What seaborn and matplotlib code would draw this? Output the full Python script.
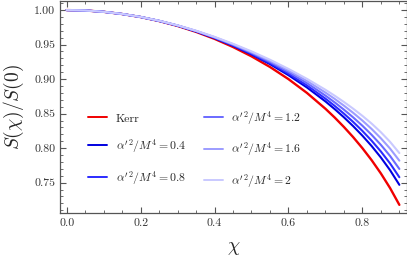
import numpy as np
import pandas as pd
import matplotlib
matplotlib.use("Agg")
import matplotlib.pyplot as plt
import seaborn as sns
from matplotlib.ticker import MultipleLocator

# valores
chi = [0.0, 0.05, 0.10, 0.15, 0.20, 0.25, 0.30, 0.35, 0.40, 0.45,
       0.50, 0.55, 0.60, 0.65, 0.70, 0.725, 0.75, 0.775, 0.80, 0.825,
       0.85, 0.875, 0.90]

kerr = [1.0000, 0.9994, 0.9975, 0.9943, 0.9899, 0.9841, 0.9770, 0.9684, 0.9583, 0.9465,
        0.9330, 0.9176, 0.9000, 0.8800, 0.8571, 0.8444, 0.8307, 0.8160, 0.8000, 0.7826,
        0.7634, 0.7421, 0.7179]
a04 = [1.0000, 0.9994, 0.9975, 0.9943, 0.9900, 0.9843, 0.9774, 0.9691, 0.9594, 0.9483,
       0.9358, 0.9217, 0.9057, 0.8879, 0.8677, 0.8566, 0.8447, 0.8319, 0.8181, 0.8031,
       0.7865, 0.7680, 0.7469]
a08 = [1.0000, 0.9994, 0.9975, 0.9943, 0.9900, 0.9843, 0.9775, 0.9693, 0.9599, 0.9490,
       0.9368, 0.9232, 0.9079, 0.8909, 0.8717, 0.8612, 0.8500, 0.8380, 0.8250, 0.8108,
       0.7952, 0.7778, 0.7579]
a12 = [1.0000, 0.9994, 0.9975, 0.9943, 0.9900, 0.9844, 0.9776, 0.9696, 0.9603, 0.9498,
       0.9380, 0.9249, 0.9103, 0.8942, 0.8761, 0.8663, 0.8558, 0.8446, 0.8325, 0.8193,
       0.8048, 0.7886, 0.7699]
a16 = [1.0000, 0.9994, 0.9975, 0.9944, 0.9901, 0.9845, 0.9778, 0.9699, 0.9608, 0.9505,
       0.9391, 0.9265, 0.9126, 0.8974, 0.8805, 0.8714, 0.8616, 0.8512, 0.8400, 0.8278,
       0.8143, 0.7993, 0.7819]
a20 = [1.0000, 0.9994, 0.9975, 0.9944, 0.9901, 0.9846, 0.9779, 0.9701, 0.9612, 0.9512,
       0.9402, 0.9281, 0.9148, 0.9004, 0.8846, 0.8760, 0.8669, 0.8572, 0.8468, 0.8356,
       0.8231, 0.8091, 0.7929]

labels = ["Kerr",
          r"$\alpha'^2/M^4=0.4$", r"$\alpha'^2/M^4=0.8$", r"$\alpha'^2/M^4=1.2$",
          r"$\alpha'^2/M^4=1.6$", r"$\alpha'^2/M^4=2$"]
colores = ["#f00000", "#0000e0", "#2b2bff", "#6a6aff", "#9c9cff", "#c9c9ff"]

series = [kerr, a04, a08, a12, a16, a20]
df = pd.concat([pd.DataFrame({"chi": chi, "S": s, "modelo": lab})
                for s, lab in zip(series, labels)], ignore_index=True)

sns.set_style("ticks")
plt.rcParams["font.family"] = "serif"
plt.rcParams["font.serif"] = ["cmr10"]
plt.rcParams["mathtext.fontset"] = "cm"
plt.rcParams["axes.formatter.use_mathtext"] = True

fig = plt.figure(figsize=(4.07, 2.71), dpi=100)
ax = fig.add_axes([0.1474, 0.213, 0.852, 0.785])

sns.lineplot(data=df, x="chi", y="S", hue="modelo", palette=colores,
             hue_order=labels, ax=ax, linewidth=1.5, legend=False)
ax.lines[0].set_linewidth(1.7)

for c, lab in zip(colores, labels):
    ax.plot([], [], color=c, lw=1.4, label=lab)
ax.legend(ncol=2, frameon=False, loc="center left", bbox_to_anchor=(0.065, 0.30),
          fontsize=8.5, handlelength=1.6, handletextpad=0.7, columnspacing=1.5,
          labelspacing=1.15, borderpad=0)

ax.set_xlim(-0.018, 0.920)
ax.set_ylim(0.7057, 1.0138)
ax.xaxis.set_major_locator(MultipleLocator(0.2))
ax.xaxis.set_minor_locator(MultipleLocator(0.05))
ax.yaxis.set_major_locator(MultipleLocator(0.05))
ax.yaxis.set_minor_locator(MultipleLocator(0.01))
ax.xaxis.set_major_formatter(plt.FuncFormatter(lambda v, p: f"{v:.1f}"))
ax.yaxis.set_major_formatter(plt.FuncFormatter(lambda v, p: f"{v:.2f}"))

gris = "#555555"
ax.tick_params(which="both", direction="in", top=True, right=True,
               color=gris, labelcolor="#333333", labelsize=8.5)
ax.tick_params(which="major", length=4, width=0.8)
ax.tick_params(which="minor", length=2, width=0.6)
for sp in ax.spines.values():
    sp.set_color(gris)
    sp.set_linewidth(0.9)

ax.set_xlabel(r"$\chi$", fontsize=14, labelpad=8)
ax.set_ylabel(r"$S(\chi)/S(0)$", fontsize=14, labelpad=6)

fig.savefig("out.png", dpi=100)
